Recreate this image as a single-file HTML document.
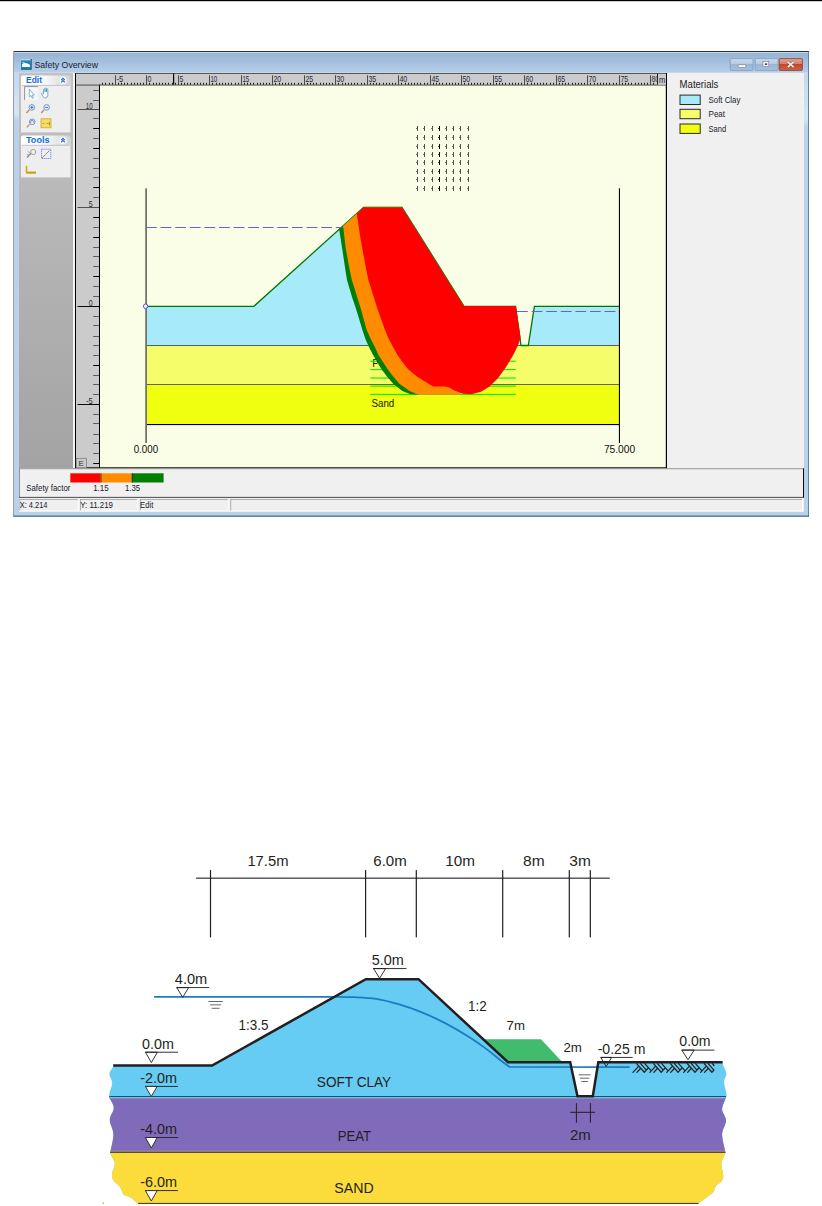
<!DOCTYPE html>
<html><head><meta charset="utf-8"><title>Safety Overview</title>
<style>html,body{margin:0;padding:0;background:#fff;width:822px;height:1206px;overflow:hidden}</style>
</head><body>
<svg width="822" height="1206" viewBox="0 0 822 1206" style="display:block;font-family:'Liberation Sans', sans-serif">
<defs>
<linearGradient id="tb" x1="0" y1="0" x2="0" y2="1"><stop offset="0" stop-color="#93B0D1"/><stop offset="1" stop-color="#B7D0EA"/></linearGradient>
<linearGradient id="lp" x1="0" y1="0" x2="0" y2="1"><stop offset="0" stop-color="#C2C2C2"/><stop offset="1" stop-color="#A3A3A3"/></linearGradient>
<linearGradient id="grphdr" x1="0" y1="0" x2="1" y2="0"><stop offset="0" stop-color="#FFFFFF"/><stop offset="0.4" stop-color="#FFFFFF"/><stop offset="1" stop-color="#D2D2D2"/></linearGradient>
<linearGradient id="btn" x1="0" y1="0" x2="0" y2="1"><stop offset="0" stop-color="#C9DAEE"/><stop offset="0.5" stop-color="#B3C8E2"/><stop offset="0.5" stop-color="#9DB5D5"/><stop offset="1" stop-color="#A9C1DE"/></linearGradient>
<linearGradient id="btnx" x1="0" y1="0" x2="0" y2="1"><stop offset="0" stop-color="#E3A393"/><stop offset="0.5" stop-color="#D47A64"/><stop offset="0.5" stop-color="#C3452A"/><stop offset="1" stop-color="#D0634A"/></linearGradient>
<linearGradient id="frl" x1="0" y1="0" x2="0" y2="1"><stop offset="0" stop-color="#C4D8EE"/><stop offset="0.85" stop-color="#D6E5F5"/><stop offset="1" stop-color="#BAD1EB"/></linearGradient>
</defs>
<rect width="822" height="1206" fill="#fff"/>
<rect x="0" y="0" width="822" height="1.2" fill="#000"/>
<rect x="13" y="51" width="796" height="465.5" fill="#BAD1EB"/>
<rect x="13" y="51" width="796" height="22" fill="url(#tb)"/>
<rect x="13" y="51" width="796" height="1" fill="#2E2E2E"/>
<rect x="14" y="52" width="794" height="0.8" fill="#D3E3F4"/>
<rect x="13" y="51" width="1" height="465.5" fill="#98A0A8"/>
<rect x="808" y="51.5" width="1" height="465" fill="#5A8C9E"/>
<rect x="13.5" y="515.6" width="795.5" height="1.1" fill="#1F6676"/>
<rect x="14" y="72" width="794" height="1" fill="#C4D9F0"/>
<rect x="14" y="73" width="5" height="48" fill="url(#frl)"/>
<rect x="804" y="73" width="4" height="54" fill="url(#frl)"/>
<rect x="21" y="59.3" width="10.3" height="10.3" fill="#1C86B8"/>
<rect x="21" y="59.3" width="10.3" height="1" fill="#E8F2F8"/>
<path d="M22.1 64.3 L23.4 63.2 L24.6 62.4 L25.6 63.3 L26.9 63.2 L28.4 63.9 L29.9 64.7 L29.9 66.9 L22.1 66.9 Z" fill="#FFFFFF"/>
<rect x="22.1" y="61.9" width="1.6" height="0.8" fill="#E8F4FA"/>
<rect x="31" y="60" width="0.8" height="9.6" fill="#33404A" opacity="0.7"/>
<rect x="30.6" y="59.2" width="1" height="1" fill="#000"/>
<rect x="21" y="68.6" width="10.3" height="1" fill="#0F5E86"/>
<text x="34.4" y="67.9" font-size="9.3" fill="#1C2433" textLength="63.6" lengthAdjust="spacingAndGlyphs">Safety Overview</text>
<rect x="730.2" y="58.6" width="22.8" height="11.8" rx="0.8" fill="url(#btn)" stroke="#7E95B4" stroke-width="0.7"/>
<rect x="738.3" y="64.7" width="7.4" height="2.8" rx="0.8" fill="#fff" stroke="#5A6A84" stroke-width="0.5"/>
<rect x="755.2" y="58.6" width="22.8" height="11.8" rx="0.8" fill="url(#btn)" stroke="#7E95B4" stroke-width="0.7"/>
<rect x="763" y="61.5" width="5.8" height="5.2" fill="#fff" stroke="#50607a" stroke-width="0.5"/>
<rect x="764.8" y="63.3" width="2.4" height="1.8" fill="#3A4F6E"/>
<rect x="779.2" y="58.6" width="23.2" height="11.8" rx="0.8" fill="url(#btnx)" stroke="#7A3426" stroke-width="0.7"/>
<path d="M787.8 61.8 L793.6 67.2 M793.6 61.8 L787.8 67.2" stroke="#6A3A30" stroke-width="2.6" opacity="0.5"/>
<path d="M787.8 61.8 L793.6 67.2 M793.6 61.8 L787.8 67.2" stroke="#EDEDED" stroke-width="1.7"/>
<rect x="19" y="73" width="785" height="438.8" fill="#F0F0F0"/>
<rect x="19" y="73" width="54" height="395" fill="url(#lp)"/>
<rect x="73" y="73" width="2" height="395" fill="#F4F4F4"/>
<rect x="75" y="73" width="1.2" height="395.5" fill="#000"/>
<rect x="76" y="73" width="590.5" height="12" fill="#CBCBCB"/>
<rect x="76" y="73" width="23" height="395" fill="#CBCBCB"/>
<rect x="76" y="73" width="591" height="0.9" fill="#4A4A4A"/>
<rect x="99" y="85" width="567.5" height="383" fill="#FAFEE6"/>
<rect x="99" y="84.6" width="1" height="383.8" fill="#000"/>
<rect x="76" y="84.6" width="591" height="0.9" fill="#3C3C3C"/>
<rect x="665.8" y="73" width="1.2" height="395.5" fill="#000"/>
<rect x="75" y="467.3" width="592" height="1.2" fill="#000"/>
<rect x="21" y="78.5" width="49.5" height="53.900000000000006" fill="#EEEEEE"/>
<rect x="21" y="75.5" width="49.5" height="9.8" rx="2" fill="url(#grphdr)"/>
<rect x="22" y="84.89999999999999" width="47.5" height="1" fill="#C4C4C4"/>
<text x="26" y="82.8" font-size="9.2" font-weight="bold" fill="#0E6BE6" textLength="16" lengthAdjust="spacingAndGlyphs">Edit</text>
<circle cx="63" cy="80.4" r="3.9" fill="#fff" stroke="#D8DEE6" stroke-width="0.5"/>
<path d="M61.2 80.2 L63 78.4 L64.8 80.2 M61.2 82.30000000000001 L63 80.5 L64.8 82.30000000000001" stroke="#1A5FD2" stroke-width="1.1" fill="none"/>
<rect x="21" y="138.5" width="49.5" height="38.900000000000006" fill="#EEEEEE"/>
<rect x="21" y="135.5" width="49.5" height="9.7" rx="2" fill="url(#grphdr)"/>
<rect x="22" y="144.79999999999998" width="47.5" height="1" fill="#C4C4C4"/>
<text x="26" y="142.7" font-size="9.2" font-weight="bold" fill="#0E6BE6" textLength="23.5" lengthAdjust="spacingAndGlyphs">Tools</text>
<circle cx="63" cy="140.35" r="3.9" fill="#fff" stroke="#D8DEE6" stroke-width="0.5"/>
<path d="M61.2 140.15 L63 138.35 L64.8 140.15 M61.2 142.25 L63 140.45 L64.8 142.25" stroke="#1A5FD2" stroke-width="1.1" fill="none"/>
<rect x="24.5" y="86.5" width="13.5" height="13.5" fill="#F6F6F6"/>
<path d="M24.6 100 L24.6 86.6 L38 86.6" stroke="#7A7A7A" stroke-width="0.8" fill="none"/>
<path d="M29.3 89.2 L29.3 97 L31 95.5 L32.4 98.3 L33.4 97.8 L32.1 95.1 L34.3 95.1 Z" fill="#fff" stroke="#4A9BD0" stroke-width="0.7"/>
<path d="M43.6 93 L43.6 89.3 Q44.3 88.4 45 89.3 L45 92 L45 88.6 Q45.7 87.8 46.4 88.6 L46.4 92 L46.4 89 Q47.1 88.2 47.8 89 L47.8 95.5 Q47.4 97.6 45.8 97.8 L44.3 97.8 Q43 97 42.3 95.4 L41.6 93.6 Q42.2 92.6 43.6 94 Z" fill="#fff" stroke="#3E8FC8" stroke-width="0.7"/>
<line x1="29.2" y1="110.0" x2="26.4" y2="113.0" stroke="#C98A4A" stroke-width="1.3"/>
<circle cx="31.8" cy="107.4" r="2.8" fill="#E6F0FA" stroke="#5F8FD0" stroke-width="0.9"/>
<path d="M30.3 107.4 L33.3 107.4 M31.8 105.9 L31.8 108.9" stroke="#2C4FB0" stroke-width="0.8"/>
<line x1="44.0" y1="110.0" x2="41.2" y2="113.0" stroke="#C98A4A" stroke-width="1.3"/>
<circle cx="46.6" cy="107.4" r="2.8" fill="#E6F0FA" stroke="#5F8FD0" stroke-width="0.9"/>
<path d="M45.1 107.4 L48.1 107.4" stroke="#2C4FB0" stroke-width="0.8"/>
<line x1="29.6" y1="124.39999999999999" x2="26.800000000000004" y2="127.39999999999999" stroke="#C98A4A" stroke-width="1.3"/>
<circle cx="32.2" cy="121.8" r="2.8" fill="#E6F0FA" stroke="#5F8FD0" stroke-width="0.9"/>
<path d="M30.900000000000002 122.8 A1.5 1.5 0 1 1 33.5 122.39999999999999" stroke="#2C4FB0" stroke-width="0.7" fill="none"/>
<rect x="41" y="118.8" width="10" height="9" fill="#F5DC64" stroke="#C8A020" stroke-width="0.7"/>
<path d="M42.5 123.5 L44.5 123.5 M46.5 123.5 L49.5 123.5 M49.5 121.5 L49.5 125.5" stroke="#B08010" stroke-width="0.7"/>
<path d="M27 157.5 L31 153.3" stroke="#8A8A8A" stroke-width="1.4"/>
<circle cx="33.2" cy="152" r="2.6" fill="none" stroke="#9A9A9A" stroke-width="0.9"/>
<path d="M27.5 151 L30.5 153.5 M26.8 154.5 L29 155" stroke="#9A9A9A" stroke-width="0.8"/>
<rect x="41.5" y="149.2" width="9.3" height="9.3" fill="#EAF0FA" stroke="#5A6FD8" stroke-width="0.8" stroke-dasharray="1.2 0.8"/>
<path d="M42 158 L45.5 154.5 L49.5 150.5" stroke="#D07A30" stroke-width="1"/>
<path d="M26.5 165.8 L26.5 172.4 L36 172.4" stroke="#D8A810" stroke-width="1.6" fill="none"/>
<path d="M26.5 173.2 L36 173.2" stroke="#A87808" stroke-width="0.6"/>
<rect x="102" y="82.8" width="1" height="1.9" fill="#1E1E1E"/>
<rect x="105" y="82.8" width="1" height="1.9" fill="#1E1E1E"/>
<rect x="109" y="82.8" width="1" height="1.9" fill="#1E1E1E"/>
<rect x="112" y="82.8" width="1" height="1.9" fill="#1E1E1E"/>
<rect x="115" y="82.8" width="1" height="1.9" fill="#1E1E1E"/>
<rect x="118" y="82.8" width="1" height="1.9" fill="#1E1E1E"/>
<rect x="121" y="82.8" width="1" height="1.9" fill="#1E1E1E"/>
<rect x="124" y="82.8" width="1" height="1.9" fill="#1E1E1E"/>
<rect x="127" y="82.8" width="1" height="1.9" fill="#1E1E1E"/>
<rect x="131" y="82.8" width="1" height="1.9" fill="#1E1E1E"/>
<rect x="134" y="82.8" width="1" height="1.9" fill="#1E1E1E"/>
<rect x="137" y="82.8" width="1" height="1.9" fill="#1E1E1E"/>
<rect x="140" y="82.8" width="1" height="1.9" fill="#1E1E1E"/>
<rect x="143" y="82.8" width="1" height="1.9" fill="#1E1E1E"/>
<rect x="146" y="82.8" width="1" height="1.9" fill="#1E1E1E"/>
<rect x="149" y="82.8" width="1" height="1.9" fill="#1E1E1E"/>
<rect x="153" y="82.8" width="1" height="1.9" fill="#1E1E1E"/>
<rect x="156" y="82.8" width="1" height="1.9" fill="#1E1E1E"/>
<rect x="159" y="82.8" width="1" height="1.9" fill="#1E1E1E"/>
<rect x="162" y="82.8" width="1" height="1.9" fill="#1E1E1E"/>
<rect x="165" y="82.8" width="1" height="1.9" fill="#1E1E1E"/>
<rect x="168" y="82.8" width="1" height="1.9" fill="#1E1E1E"/>
<rect x="172" y="82.8" width="1" height="1.9" fill="#1E1E1E"/>
<rect x="175" y="82.8" width="1" height="1.9" fill="#1E1E1E"/>
<rect x="178" y="82.8" width="1" height="1.9" fill="#1E1E1E"/>
<rect x="181" y="82.8" width="1" height="1.9" fill="#1E1E1E"/>
<rect x="184" y="82.8" width="1" height="1.9" fill="#1E1E1E"/>
<rect x="187" y="82.8" width="1" height="1.9" fill="#1E1E1E"/>
<rect x="190" y="82.8" width="1" height="1.9" fill="#1E1E1E"/>
<rect x="194" y="82.8" width="1" height="1.9" fill="#1E1E1E"/>
<rect x="197" y="82.8" width="1" height="1.9" fill="#1E1E1E"/>
<rect x="200" y="82.8" width="1" height="1.9" fill="#1E1E1E"/>
<rect x="203" y="82.8" width="1" height="1.9" fill="#1E1E1E"/>
<rect x="206" y="82.8" width="1" height="1.9" fill="#1E1E1E"/>
<rect x="209" y="82.8" width="1" height="1.9" fill="#1E1E1E"/>
<rect x="212" y="82.8" width="1" height="1.9" fill="#1E1E1E"/>
<rect x="216" y="82.8" width="1" height="1.9" fill="#1E1E1E"/>
<rect x="219" y="82.8" width="1" height="1.9" fill="#1E1E1E"/>
<rect x="222" y="82.8" width="1" height="1.9" fill="#1E1E1E"/>
<rect x="225" y="82.8" width="1" height="1.9" fill="#1E1E1E"/>
<rect x="228" y="82.8" width="1" height="1.9" fill="#1E1E1E"/>
<rect x="231" y="82.8" width="1" height="1.9" fill="#1E1E1E"/>
<rect x="235" y="82.8" width="1" height="1.9" fill="#1E1E1E"/>
<rect x="238" y="82.8" width="1" height="1.9" fill="#1E1E1E"/>
<rect x="241" y="82.8" width="1" height="1.9" fill="#1E1E1E"/>
<rect x="244" y="82.8" width="1" height="1.9" fill="#1E1E1E"/>
<rect x="247" y="82.8" width="1" height="1.9" fill="#1E1E1E"/>
<rect x="250" y="82.8" width="1" height="1.9" fill="#1E1E1E"/>
<rect x="253" y="82.8" width="1" height="1.9" fill="#1E1E1E"/>
<rect x="257" y="82.8" width="1" height="1.9" fill="#1E1E1E"/>
<rect x="260" y="82.8" width="1" height="1.9" fill="#1E1E1E"/>
<rect x="263" y="82.8" width="1" height="1.9" fill="#1E1E1E"/>
<rect x="266" y="82.8" width="1" height="1.9" fill="#1E1E1E"/>
<rect x="269" y="82.8" width="1" height="1.9" fill="#1E1E1E"/>
<rect x="272" y="82.8" width="1" height="1.9" fill="#1E1E1E"/>
<rect x="275" y="82.8" width="1" height="1.9" fill="#1E1E1E"/>
<rect x="279" y="82.8" width="1" height="1.9" fill="#1E1E1E"/>
<rect x="282" y="82.8" width="1" height="1.9" fill="#1E1E1E"/>
<rect x="285" y="82.8" width="1" height="1.9" fill="#1E1E1E"/>
<rect x="288" y="82.8" width="1" height="1.9" fill="#1E1E1E"/>
<rect x="291" y="82.8" width="1" height="1.9" fill="#1E1E1E"/>
<rect x="294" y="82.8" width="1" height="1.9" fill="#1E1E1E"/>
<rect x="298" y="82.8" width="1" height="1.9" fill="#1E1E1E"/>
<rect x="301" y="82.8" width="1" height="1.9" fill="#1E1E1E"/>
<rect x="304" y="82.8" width="1" height="1.9" fill="#1E1E1E"/>
<rect x="307" y="82.8" width="1" height="1.9" fill="#1E1E1E"/>
<rect x="310" y="82.8" width="1" height="1.9" fill="#1E1E1E"/>
<rect x="313" y="82.8" width="1" height="1.9" fill="#1E1E1E"/>
<rect x="316" y="82.8" width="1" height="1.9" fill="#1E1E1E"/>
<rect x="320" y="82.8" width="1" height="1.9" fill="#1E1E1E"/>
<rect x="323" y="82.8" width="1" height="1.9" fill="#1E1E1E"/>
<rect x="326" y="82.8" width="1" height="1.9" fill="#1E1E1E"/>
<rect x="329" y="82.8" width="1" height="1.9" fill="#1E1E1E"/>
<rect x="332" y="82.8" width="1" height="1.9" fill="#1E1E1E"/>
<rect x="335" y="82.8" width="1" height="1.9" fill="#1E1E1E"/>
<rect x="338" y="82.8" width="1" height="1.9" fill="#1E1E1E"/>
<rect x="342" y="82.8" width="1" height="1.9" fill="#1E1E1E"/>
<rect x="345" y="82.8" width="1" height="1.9" fill="#1E1E1E"/>
<rect x="348" y="82.8" width="1" height="1.9" fill="#1E1E1E"/>
<rect x="351" y="82.8" width="1" height="1.9" fill="#1E1E1E"/>
<rect x="354" y="82.8" width="1" height="1.9" fill="#1E1E1E"/>
<rect x="357" y="82.8" width="1" height="1.9" fill="#1E1E1E"/>
<rect x="361" y="82.8" width="1" height="1.9" fill="#1E1E1E"/>
<rect x="364" y="82.8" width="1" height="1.9" fill="#1E1E1E"/>
<rect x="367" y="82.8" width="1" height="1.9" fill="#1E1E1E"/>
<rect x="370" y="82.8" width="1" height="1.9" fill="#1E1E1E"/>
<rect x="373" y="82.8" width="1" height="1.9" fill="#1E1E1E"/>
<rect x="376" y="82.8" width="1" height="1.9" fill="#1E1E1E"/>
<rect x="379" y="82.8" width="1" height="1.9" fill="#1E1E1E"/>
<rect x="383" y="82.8" width="1" height="1.9" fill="#1E1E1E"/>
<rect x="386" y="82.8" width="1" height="1.9" fill="#1E1E1E"/>
<rect x="389" y="82.8" width="1" height="1.9" fill="#1E1E1E"/>
<rect x="392" y="82.8" width="1" height="1.9" fill="#1E1E1E"/>
<rect x="395" y="82.8" width="1" height="1.9" fill="#1E1E1E"/>
<rect x="398" y="82.8" width="1" height="1.9" fill="#1E1E1E"/>
<rect x="401" y="82.8" width="1" height="1.9" fill="#1E1E1E"/>
<rect x="405" y="82.8" width="1" height="1.9" fill="#1E1E1E"/>
<rect x="408" y="82.8" width="1" height="1.9" fill="#1E1E1E"/>
<rect x="411" y="82.8" width="1" height="1.9" fill="#1E1E1E"/>
<rect x="414" y="82.8" width="1" height="1.9" fill="#1E1E1E"/>
<rect x="417" y="82.8" width="1" height="1.9" fill="#1E1E1E"/>
<rect x="420" y="82.8" width="1" height="1.9" fill="#1E1E1E"/>
<rect x="424" y="82.8" width="1" height="1.9" fill="#1E1E1E"/>
<rect x="427" y="82.8" width="1" height="1.9" fill="#1E1E1E"/>
<rect x="430" y="82.8" width="1" height="1.9" fill="#1E1E1E"/>
<rect x="433" y="82.8" width="1" height="1.9" fill="#1E1E1E"/>
<rect x="436" y="82.8" width="1" height="1.9" fill="#1E1E1E"/>
<rect x="439" y="82.8" width="1" height="1.9" fill="#1E1E1E"/>
<rect x="442" y="82.8" width="1" height="1.9" fill="#1E1E1E"/>
<rect x="446" y="82.8" width="1" height="1.9" fill="#1E1E1E"/>
<rect x="449" y="82.8" width="1" height="1.9" fill="#1E1E1E"/>
<rect x="452" y="82.8" width="1" height="1.9" fill="#1E1E1E"/>
<rect x="455" y="82.8" width="1" height="1.9" fill="#1E1E1E"/>
<rect x="458" y="82.8" width="1" height="1.9" fill="#1E1E1E"/>
<rect x="461" y="82.8" width="1" height="1.9" fill="#1E1E1E"/>
<rect x="464" y="82.8" width="1" height="1.9" fill="#1E1E1E"/>
<rect x="468" y="82.8" width="1" height="1.9" fill="#1E1E1E"/>
<rect x="471" y="82.8" width="1" height="1.9" fill="#1E1E1E"/>
<rect x="474" y="82.8" width="1" height="1.9" fill="#1E1E1E"/>
<rect x="477" y="82.8" width="1" height="1.9" fill="#1E1E1E"/>
<rect x="480" y="82.8" width="1" height="1.9" fill="#1E1E1E"/>
<rect x="483" y="82.8" width="1" height="1.9" fill="#1E1E1E"/>
<rect x="487" y="82.8" width="1" height="1.9" fill="#1E1E1E"/>
<rect x="490" y="82.8" width="1" height="1.9" fill="#1E1E1E"/>
<rect x="493" y="82.8" width="1" height="1.9" fill="#1E1E1E"/>
<rect x="496" y="82.8" width="1" height="1.9" fill="#1E1E1E"/>
<rect x="499" y="82.8" width="1" height="1.9" fill="#1E1E1E"/>
<rect x="502" y="82.8" width="1" height="1.9" fill="#1E1E1E"/>
<rect x="505" y="82.8" width="1" height="1.9" fill="#1E1E1E"/>
<rect x="509" y="82.8" width="1" height="1.9" fill="#1E1E1E"/>
<rect x="512" y="82.8" width="1" height="1.9" fill="#1E1E1E"/>
<rect x="515" y="82.8" width="1" height="1.9" fill="#1E1E1E"/>
<rect x="518" y="82.8" width="1" height="1.9" fill="#1E1E1E"/>
<rect x="521" y="82.8" width="1" height="1.9" fill="#1E1E1E"/>
<rect x="524" y="82.8" width="1" height="1.9" fill="#1E1E1E"/>
<rect x="527" y="82.8" width="1" height="1.9" fill="#1E1E1E"/>
<rect x="531" y="82.8" width="1" height="1.9" fill="#1E1E1E"/>
<rect x="534" y="82.8" width="1" height="1.9" fill="#1E1E1E"/>
<rect x="537" y="82.8" width="1" height="1.9" fill="#1E1E1E"/>
<rect x="540" y="82.8" width="1" height="1.9" fill="#1E1E1E"/>
<rect x="543" y="82.8" width="1" height="1.9" fill="#1E1E1E"/>
<rect x="546" y="82.8" width="1" height="1.9" fill="#1E1E1E"/>
<rect x="550" y="82.8" width="1" height="1.9" fill="#1E1E1E"/>
<rect x="553" y="82.8" width="1" height="1.9" fill="#1E1E1E"/>
<rect x="556" y="82.8" width="1" height="1.9" fill="#1E1E1E"/>
<rect x="559" y="82.8" width="1" height="1.9" fill="#1E1E1E"/>
<rect x="562" y="82.8" width="1" height="1.9" fill="#1E1E1E"/>
<rect x="565" y="82.8" width="1" height="1.9" fill="#1E1E1E"/>
<rect x="568" y="82.8" width="1" height="1.9" fill="#1E1E1E"/>
<rect x="572" y="82.8" width="1" height="1.9" fill="#1E1E1E"/>
<rect x="575" y="82.8" width="1" height="1.9" fill="#1E1E1E"/>
<rect x="578" y="82.8" width="1" height="1.9" fill="#1E1E1E"/>
<rect x="581" y="82.8" width="1" height="1.9" fill="#1E1E1E"/>
<rect x="584" y="82.8" width="1" height="1.9" fill="#1E1E1E"/>
<rect x="587" y="82.8" width="1" height="1.9" fill="#1E1E1E"/>
<rect x="590" y="82.8" width="1" height="1.9" fill="#1E1E1E"/>
<rect x="594" y="82.8" width="1" height="1.9" fill="#1E1E1E"/>
<rect x="597" y="82.8" width="1" height="1.9" fill="#1E1E1E"/>
<rect x="600" y="82.8" width="1" height="1.9" fill="#1E1E1E"/>
<rect x="603" y="82.8" width="1" height="1.9" fill="#1E1E1E"/>
<rect x="606" y="82.8" width="1" height="1.9" fill="#1E1E1E"/>
<rect x="609" y="82.8" width="1" height="1.9" fill="#1E1E1E"/>
<rect x="613" y="82.8" width="1" height="1.9" fill="#1E1E1E"/>
<rect x="616" y="82.8" width="1" height="1.9" fill="#1E1E1E"/>
<rect x="619" y="82.8" width="1" height="1.9" fill="#1E1E1E"/>
<rect x="622" y="82.8" width="1" height="1.9" fill="#1E1E1E"/>
<rect x="625" y="82.8" width="1" height="1.9" fill="#1E1E1E"/>
<rect x="628" y="82.8" width="1" height="1.9" fill="#1E1E1E"/>
<rect x="631" y="82.8" width="1" height="1.9" fill="#1E1E1E"/>
<rect x="635" y="82.8" width="1" height="1.9" fill="#1E1E1E"/>
<rect x="638" y="82.8" width="1" height="1.9" fill="#1E1E1E"/>
<rect x="641" y="82.8" width="1" height="1.9" fill="#1E1E1E"/>
<rect x="644" y="82.8" width="1" height="1.9" fill="#1E1E1E"/>
<rect x="647" y="82.8" width="1" height="1.9" fill="#1E1E1E"/>
<rect x="650" y="82.8" width="1" height="1.9" fill="#1E1E1E"/>
<rect x="653" y="82.8" width="1" height="1.9" fill="#1E1E1E"/>
<rect x="115" y="75.3" width="1" height="9" fill="#4A4A4A"/>
<text x="116.40" y="81.9" font-size="9.2" fill="#2A2A3A" textLength="6.7" lengthAdjust="spacingAndGlyphs">-5</text>
<rect x="146" y="75.3" width="1" height="9" fill="#4A4A4A"/>
<text x="147.40" y="81.9" font-size="9.2" fill="#2A2A3A" textLength="3.9" lengthAdjust="spacingAndGlyphs">0</text>
<rect x="178" y="75.3" width="1" height="9" fill="#4A4A4A"/>
<text x="179.40" y="81.9" font-size="9.2" fill="#2A2A3A" textLength="3.9" lengthAdjust="spacingAndGlyphs">5</text>
<rect x="209" y="75.3" width="1" height="9" fill="#4A4A4A"/>
<text x="210.40" y="81.9" font-size="9.2" fill="#2A2A3A" textLength="6.9" lengthAdjust="spacingAndGlyphs">10</text>
<rect x="241" y="75.3" width="1" height="9" fill="#4A4A4A"/>
<text x="242.40" y="81.9" font-size="9.2" fill="#2A2A3A" textLength="6.9" lengthAdjust="spacingAndGlyphs">15</text>
<rect x="272" y="75.3" width="1" height="9" fill="#4A4A4A"/>
<text x="273.40" y="81.9" font-size="9.2" fill="#2A2A3A" textLength="7.8" lengthAdjust="spacingAndGlyphs">20</text>
<rect x="304" y="75.3" width="1" height="9" fill="#4A4A4A"/>
<text x="305.40" y="81.9" font-size="9.2" fill="#2A2A3A" textLength="7.8" lengthAdjust="spacingAndGlyphs">25</text>
<rect x="335" y="75.3" width="1" height="9" fill="#4A4A4A"/>
<text x="336.40" y="81.9" font-size="9.2" fill="#2A2A3A" textLength="7.8" lengthAdjust="spacingAndGlyphs">30</text>
<rect x="367" y="75.3" width="1" height="9" fill="#4A4A4A"/>
<text x="368.40" y="81.9" font-size="9.2" fill="#2A2A3A" textLength="7.8" lengthAdjust="spacingAndGlyphs">35</text>
<rect x="398" y="75.3" width="1" height="9" fill="#4A4A4A"/>
<text x="399.40" y="81.9" font-size="9.2" fill="#2A2A3A" textLength="7.8" lengthAdjust="spacingAndGlyphs">40</text>
<rect x="430" y="75.3" width="1" height="9" fill="#4A4A4A"/>
<text x="431.40" y="81.9" font-size="9.2" fill="#2A2A3A" textLength="7.8" lengthAdjust="spacingAndGlyphs">45</text>
<rect x="461" y="75.3" width="1" height="9" fill="#4A4A4A"/>
<text x="462.40" y="81.9" font-size="9.2" fill="#2A2A3A" textLength="7.8" lengthAdjust="spacingAndGlyphs">50</text>
<rect x="493" y="75.3" width="1" height="9" fill="#4A4A4A"/>
<text x="494.40" y="81.9" font-size="9.2" fill="#2A2A3A" textLength="7.8" lengthAdjust="spacingAndGlyphs">55</text>
<rect x="524" y="75.3" width="1" height="9" fill="#4A4A4A"/>
<text x="525.40" y="81.9" font-size="9.2" fill="#2A2A3A" textLength="7.8" lengthAdjust="spacingAndGlyphs">60</text>
<rect x="556" y="75.3" width="1" height="9" fill="#4A4A4A"/>
<text x="557.40" y="81.9" font-size="9.2" fill="#2A2A3A" textLength="7.8" lengthAdjust="spacingAndGlyphs">65</text>
<rect x="587" y="75.3" width="1" height="9" fill="#4A4A4A"/>
<text x="588.40" y="81.9" font-size="9.2" fill="#2A2A3A" textLength="7.8" lengthAdjust="spacingAndGlyphs">70</text>
<rect x="619" y="75.3" width="1" height="9" fill="#4A4A4A"/>
<text x="620.40" y="81.9" font-size="9.2" fill="#2A2A3A" textLength="7.8" lengthAdjust="spacingAndGlyphs">75</text>
<rect x="650" y="75.3" width="1" height="9" fill="#4A4A4A"/>
<text x="651.40" y="81.9" font-size="9.2" fill="#2A2A3A" textLength="7.8" lengthAdjust="spacingAndGlyphs">80</text>
<rect x="173" y="73.5" width="1.2" height="11" fill="#000"/>
<rect x="656.8" y="73.9" width="9.2" height="10.8" fill="#CBCBCB"/>
<rect x="657" y="73.5" width="1" height="11.2" fill="#222"/>
<text x="658.9" y="82.6" font-size="8.2" fill="#2A1A1A" textLength="6.4" lengthAdjust="spacingAndGlyphs">m</text>
<rect x="93.2" y="90" width="5.8" height="1" fill="#5A5A5A"/>
<rect x="93.2" y="100" width="5.8" height="1" fill="#5A5A5A"/>
<rect x="77.5" y="109" width="21.5" height="1" fill="#505050"/>
<text x="85.70" y="108.70" font-size="9.2" fill="#2A2A3A" textLength="6.9" lengthAdjust="spacingAndGlyphs">10</text>
<rect x="93.2" y="118" width="5.8" height="1" fill="#5A5A5A"/>
<rect x="93.2" y="128" width="5.8" height="1" fill="#000"/>
<rect x="93.2" y="138" width="5.8" height="1" fill="#5A5A5A"/>
<rect x="93.2" y="148" width="5.8" height="1" fill="#000"/>
<rect x="93.2" y="158" width="5.8" height="1" fill="#5A5A5A"/>
<rect x="93.2" y="168" width="5.8" height="1" fill="#5A5A5A"/>
<rect x="93.2" y="177" width="5.8" height="1" fill="#5A5A5A"/>
<rect x="93.2" y="187" width="5.8" height="1" fill="#000"/>
<rect x="93.2" y="197" width="5.8" height="1" fill="#5A5A5A"/>
<rect x="77.5" y="207" width="21.5" height="1" fill="#505050"/>
<text x="88.70" y="206.70" font-size="9.2" fill="#2A2A3A" textLength="3.9" lengthAdjust="spacingAndGlyphs">5</text>
<rect x="93.2" y="217" width="5.8" height="1" fill="#000"/>
<rect x="93.2" y="227" width="5.8" height="1" fill="#5A5A5A"/>
<rect x="93.2" y="237" width="5.8" height="1" fill="#000"/>
<rect x="93.2" y="247" width="5.8" height="1" fill="#5A5A5A"/>
<rect x="93.2" y="256" width="5.8" height="1" fill="#5A5A5A"/>
<rect x="93.2" y="266" width="5.8" height="1" fill="#5A5A5A"/>
<rect x="93.2" y="276" width="5.8" height="1" fill="#000"/>
<rect x="93.2" y="286" width="5.8" height="1" fill="#5A5A5A"/>
<rect x="93.2" y="296" width="5.8" height="1" fill="#5A5A5A"/>
<rect x="77.5" y="306" width="21.5" height="1" fill="#0A0A0A"/>
<text x="88.70" y="305.70" font-size="9.2" fill="#2A2A3A" textLength="3.9" lengthAdjust="spacingAndGlyphs">0</text>
<rect x="93.2" y="316" width="5.8" height="1" fill="#5A5A5A"/>
<rect x="93.2" y="325" width="5.8" height="1" fill="#5A5A5A"/>
<rect x="93.2" y="336" width="5.8" height="1" fill="#5A5A5A"/>
<rect x="93.2" y="345" width="5.8" height="1" fill="#5A5A5A"/>
<rect x="93.2" y="355" width="5.8" height="1" fill="#5A5A5A"/>
<rect x="93.2" y="365" width="5.8" height="1" fill="#000"/>
<rect x="93.2" y="375" width="5.8" height="1" fill="#5A5A5A"/>
<rect x="93.2" y="384" width="5.8" height="1" fill="#5A5A5A"/>
<rect x="93.2" y="394" width="5.8" height="1" fill="#5A5A5A"/>
<rect x="77.5" y="404" width="21.5" height="1" fill="#0A0A0A"/>
<text x="85.90" y="403.70" font-size="9.2" fill="#2A2A3A" textLength="6.7" lengthAdjust="spacingAndGlyphs">-5</text>
<rect x="93.2" y="414" width="5.8" height="1" fill="#5A5A5A"/>
<rect x="93.2" y="423" width="5.8" height="1" fill="#5A5A5A"/>
<rect x="93.2" y="434" width="5.8" height="1" fill="#5A5A5A"/>
<rect x="93.2" y="443" width="5.8" height="1" fill="#5A5A5A"/>
<rect x="93.2" y="453" width="5.8" height="1" fill="#5A5A5A"/>
<rect x="93.2" y="463" width="5.8" height="1" fill="#000"/>
<rect x="76.2" y="458.3" width="10.3" height="9.5" fill="#CBCBCB" stroke="#777" stroke-width="0.7"/>
<text x="78.4" y="466.2" font-size="8" fill="#333">E</text>
<rect x="146.1" y="384.5" width="473.4" height="40.0" fill="#EFFF0F"/>
<rect x="146.1" y="345.5" width="473.4" height="39.0" fill="#F5FD6B"/>
<polygon points="146.10,306.30 253.90,306.30 363.60,207.30 402.00,207.30 464.00,306.30 515.60,306.30 521.00,345.50 528.30,345.50 534.40,306.30 619.50,306.30 619.50,345.50 146.10,345.50" fill="#A7EAF9"/>
<rect x="146.1" y="345" width="473.4" height="1" fill="#4E5E66"/>
<rect x="146.1" y="384" width="473.4" height="1" fill="#66683A"/>
<rect x="146.1" y="424" width="473.4" height="1.1" fill="#000"/>
<polyline points="146.10,306.30 253.90,306.30 363.60,207.30 402.00,207.30 464.00,306.30 515.60,306.30 521.00,345.50 528.30,345.50 534.40,306.30 619.50,306.30" fill="none" stroke="#007800" stroke-width="1.3"/>
<rect x="145.2" y="188.3" width="1.8" height="254.7" fill="#74746A"/>
<rect x="618.9" y="188.3" width="1.1" height="254.7" fill="#000"/>
<line x1="146" y1="227.5" x2="345" y2="227.5" stroke="#5F5FF0" stroke-width="1.1" stroke-dasharray="10.8 3.8"/>
<line x1="517" y1="311.5" x2="619" y2="311.5" stroke="#5F5FF0" stroke-width="1.1" stroke-dasharray="10.8 3.8" stroke-dashoffset="0"/>
<circle cx="145.6" cy="306.2" r="2.2" fill="#fff" stroke="#2F3FF0" stroke-width="0.9"/>
<text x="372.2" y="366.8" font-size="10.4" fill="#2A1A10" textLength="20.6" lengthAdjust="spacingAndGlyphs">Peat</text>
<text x="371.5" y="406.6" font-size="10.4" fill="#1A1A08" textLength="22.8" lengthAdjust="spacingAndGlyphs">Sand</text>
<rect x="370.3" y="360.65" width="145.5" height="1.1" fill="#00F000"/>
<rect x="370.3" y="369.05" width="145.5" height="1.1" fill="#00F000"/>
<rect x="370.3" y="377.45" width="145.5" height="1.1" fill="#00F000"/>
<rect x="370.3" y="385.55" width="145.5" height="1.1" fill="#00F000"/>
<rect x="370.3" y="393.84999999999997" width="145.5" height="1.1" fill="#00F000"/>
<polygon points="341.00,227.60 339.20,229.40 342.20,248.70 345.40,270.00 347.00,280.00 352.00,297.00 356.10,308.90 362.40,330.00 365.80,340.00 369.10,347.30 372.80,354.60 377.20,361.90 381.50,369.20 387.00,376.50 393.20,383.80 402.30,391.10 410.00,394.00 418.40,394.70 430.00,390.00 400.00,300.00 360.00,230.00" fill="#007F00"/>
<polygon points="343.10,225.80 356.80,213.60 363.60,207.30 402.00,207.30 440.00,270.00 462.00,392.00 459.50,394.70 418.40,394.70 409.60,391.10 399.40,383.80 393.20,376.50 387.70,369.20 383.00,361.90 378.20,354.60 375.00,347.30 371.30,340.00 366.70,330.00 360.90,308.90 351.90,280.00 349.70,270.00 345.80,248.70" fill="#FF8C00"/>
<polygon points="363.60,207.30 402.00,207.30 464.00,306.00 515.80,306.00 520.60,337.70 517.60,346.20 512.70,356.00 505.40,368.10 498.10,377.90 489.60,386.40 481.10,391.80 471.40,394.30 462.80,393.70 454.30,390.60 449.50,387.60 444.60,386.60 433.00,386.40 428.10,383.50 416.90,376.50 408.20,369.20 402.30,361.90 397.20,354.60 393.20,347.30 389.20,340.00 385.00,330.00 377.50,308.90 368.40,280.00 366.30,270.00 360.20,237.00 356.80,213.60" fill="#FF0000"/>
<polyline points="341.00,227.40 363.60,207.30 402.00,207.30 464.00,306.30" fill="none" stroke="#1E8E1E" stroke-width="0.6" opacity="0.7"/>
<rect x="417" y="126" width="1" height="5" fill="#505050"/>
<rect x="416" y="128" width="1" height="1" fill="#505050" opacity="0.8"/>
<rect x="417" y="135" width="1" height="5" fill="#505050"/>
<rect x="416" y="137" width="1" height="1" fill="#505050" opacity="0.8"/>
<rect x="417" y="144" width="1" height="5" fill="#505050"/>
<rect x="416" y="146" width="1" height="1" fill="#505050" opacity="0.8"/>
<rect x="417" y="152" width="1" height="5" fill="#505050"/>
<rect x="416" y="154" width="1" height="1" fill="#505050" opacity="0.8"/>
<rect x="417" y="160" width="1" height="5" fill="#505050"/>
<rect x="416" y="162" width="1" height="1" fill="#505050" opacity="0.8"/>
<rect x="417" y="169" width="1" height="5" fill="#505050"/>
<rect x="416" y="171" width="1" height="1" fill="#505050" opacity="0.8"/>
<rect x="417" y="177" width="1" height="5" fill="#505050"/>
<rect x="416" y="179" width="1" height="1" fill="#505050" opacity="0.8"/>
<rect x="417" y="186" width="1" height="5" fill="#505050"/>
<rect x="416" y="188" width="1" height="1" fill="#505050" opacity="0.8"/>
<rect x="424" y="126" width="1" height="5" fill="#505050"/>
<rect x="423" y="128" width="1" height="1" fill="#505050" opacity="0.8"/>
<rect x="424" y="135" width="1" height="5" fill="#505050"/>
<rect x="423" y="137" width="1" height="1" fill="#505050" opacity="0.8"/>
<rect x="424" y="144" width="1" height="5" fill="#505050"/>
<rect x="423" y="146" width="1" height="1" fill="#505050" opacity="0.8"/>
<rect x="424" y="152" width="1" height="5" fill="#505050"/>
<rect x="423" y="154" width="1" height="1" fill="#505050" opacity="0.8"/>
<rect x="424" y="160" width="1" height="5" fill="#505050"/>
<rect x="423" y="162" width="1" height="1" fill="#505050" opacity="0.8"/>
<rect x="424" y="169" width="1" height="5" fill="#505050"/>
<rect x="423" y="171" width="1" height="1" fill="#505050" opacity="0.8"/>
<rect x="424" y="177" width="1" height="5" fill="#505050"/>
<rect x="423" y="179" width="1" height="1" fill="#505050" opacity="0.8"/>
<rect x="424" y="186" width="1" height="5" fill="#505050"/>
<rect x="423" y="188" width="1" height="1" fill="#505050" opacity="0.8"/>
<rect x="432" y="126" width="1" height="5" fill="#505050"/>
<rect x="431" y="128" width="1" height="1" fill="#505050" opacity="0.8"/>
<rect x="432" y="135" width="1" height="5" fill="#505050"/>
<rect x="431" y="137" width="1" height="1" fill="#505050" opacity="0.8"/>
<rect x="432" y="144" width="1" height="5" fill="#505050"/>
<rect x="431" y="146" width="1" height="1" fill="#505050" opacity="0.8"/>
<rect x="432" y="152" width="1" height="5" fill="#505050"/>
<rect x="431" y="154" width="1" height="1" fill="#505050" opacity="0.8"/>
<rect x="432" y="160" width="1" height="5" fill="#505050"/>
<rect x="431" y="162" width="1" height="1" fill="#505050" opacity="0.8"/>
<rect x="432" y="169" width="1" height="5" fill="#505050"/>
<rect x="431" y="171" width="1" height="1" fill="#505050" opacity="0.8"/>
<rect x="432" y="177" width="1" height="5" fill="#505050"/>
<rect x="431" y="179" width="1" height="1" fill="#505050" opacity="0.8"/>
<rect x="432" y="186" width="1" height="5" fill="#505050"/>
<rect x="431" y="188" width="1" height="1" fill="#505050" opacity="0.8"/>
<rect x="439" y="126" width="1" height="5" fill="#0A0A0A"/>
<rect x="438" y="128" width="1" height="1" fill="#0A0A0A" opacity="0.8"/>
<rect x="439" y="135" width="1" height="5" fill="#0A0A0A"/>
<rect x="438" y="137" width="1" height="1" fill="#0A0A0A" opacity="0.8"/>
<rect x="439" y="144" width="1" height="5" fill="#0A0A0A"/>
<rect x="438" y="146" width="1" height="1" fill="#0A0A0A" opacity="0.8"/>
<rect x="439" y="152" width="1" height="5" fill="#0A0A0A"/>
<rect x="438" y="154" width="1" height="1" fill="#0A0A0A" opacity="0.8"/>
<rect x="439" y="160" width="1" height="5" fill="#0A0A0A"/>
<rect x="438" y="162" width="1" height="1" fill="#0A0A0A" opacity="0.8"/>
<rect x="439" y="169" width="1" height="5" fill="#0A0A0A"/>
<rect x="438" y="171" width="1" height="1" fill="#0A0A0A" opacity="0.8"/>
<rect x="439" y="177" width="1" height="5" fill="#0A0A0A"/>
<rect x="438" y="179" width="1" height="1" fill="#0A0A0A" opacity="0.8"/>
<rect x="439" y="186" width="1" height="5" fill="#0A0A0A"/>
<rect x="438" y="188" width="1" height="1" fill="#0A0A0A" opacity="0.8"/>
<rect x="446" y="126" width="1" height="5" fill="#505050"/>
<rect x="445" y="128" width="1" height="1" fill="#505050" opacity="0.8"/>
<rect x="446" y="135" width="1" height="5" fill="#505050"/>
<rect x="445" y="137" width="1" height="1" fill="#505050" opacity="0.8"/>
<rect x="446" y="144" width="1" height="5" fill="#505050"/>
<rect x="445" y="146" width="1" height="1" fill="#505050" opacity="0.8"/>
<rect x="446" y="152" width="1" height="5" fill="#505050"/>
<rect x="445" y="154" width="1" height="1" fill="#505050" opacity="0.8"/>
<rect x="446" y="160" width="1" height="5" fill="#505050"/>
<rect x="445" y="162" width="1" height="1" fill="#505050" opacity="0.8"/>
<rect x="446" y="169" width="1" height="5" fill="#505050"/>
<rect x="445" y="171" width="1" height="1" fill="#505050" opacity="0.8"/>
<rect x="446" y="177" width="1" height="5" fill="#505050"/>
<rect x="445" y="179" width="1" height="1" fill="#505050" opacity="0.8"/>
<rect x="446" y="186" width="1" height="5" fill="#505050"/>
<rect x="445" y="188" width="1" height="1" fill="#505050" opacity="0.8"/>
<rect x="453" y="126" width="1" height="5" fill="#505050"/>
<rect x="452" y="128" width="1" height="1" fill="#505050" opacity="0.8"/>
<rect x="453" y="135" width="1" height="5" fill="#505050"/>
<rect x="452" y="137" width="1" height="1" fill="#505050" opacity="0.8"/>
<rect x="453" y="144" width="1" height="5" fill="#505050"/>
<rect x="452" y="146" width="1" height="1" fill="#505050" opacity="0.8"/>
<rect x="453" y="152" width="1" height="5" fill="#505050"/>
<rect x="452" y="154" width="1" height="1" fill="#505050" opacity="0.8"/>
<rect x="453" y="160" width="1" height="5" fill="#505050"/>
<rect x="452" y="162" width="1" height="1" fill="#505050" opacity="0.8"/>
<rect x="453" y="169" width="1" height="5" fill="#505050"/>
<rect x="452" y="171" width="1" height="1" fill="#505050" opacity="0.8"/>
<rect x="453" y="177" width="1" height="5" fill="#505050"/>
<rect x="452" y="179" width="1" height="1" fill="#505050" opacity="0.8"/>
<rect x="453" y="186" width="1" height="5" fill="#505050"/>
<rect x="452" y="188" width="1" height="1" fill="#505050" opacity="0.8"/>
<rect x="460" y="126" width="1" height="5" fill="#505050"/>
<rect x="459" y="128" width="1" height="1" fill="#505050" opacity="0.8"/>
<rect x="460" y="135" width="1" height="5" fill="#505050"/>
<rect x="459" y="137" width="1" height="1" fill="#505050" opacity="0.8"/>
<rect x="460" y="144" width="1" height="5" fill="#505050"/>
<rect x="459" y="146" width="1" height="1" fill="#505050" opacity="0.8"/>
<rect x="460" y="152" width="1" height="5" fill="#505050"/>
<rect x="459" y="154" width="1" height="1" fill="#505050" opacity="0.8"/>
<rect x="460" y="160" width="1" height="5" fill="#505050"/>
<rect x="459" y="162" width="1" height="1" fill="#505050" opacity="0.8"/>
<rect x="460" y="169" width="1" height="5" fill="#505050"/>
<rect x="459" y="171" width="1" height="1" fill="#505050" opacity="0.8"/>
<rect x="460" y="177" width="1" height="5" fill="#505050"/>
<rect x="459" y="179" width="1" height="1" fill="#505050" opacity="0.8"/>
<rect x="460" y="186" width="1" height="5" fill="#505050"/>
<rect x="459" y="188" width="1" height="1" fill="#505050" opacity="0.8"/>
<rect x="468" y="126" width="1" height="5" fill="#505050"/>
<rect x="467" y="128" width="1" height="1" fill="#505050" opacity="0.8"/>
<rect x="468" y="135" width="1" height="5" fill="#505050"/>
<rect x="467" y="137" width="1" height="1" fill="#505050" opacity="0.8"/>
<rect x="468" y="144" width="1" height="5" fill="#505050"/>
<rect x="467" y="146" width="1" height="1" fill="#505050" opacity="0.8"/>
<rect x="468" y="152" width="1" height="5" fill="#505050"/>
<rect x="467" y="154" width="1" height="1" fill="#505050" opacity="0.8"/>
<rect x="468" y="160" width="1" height="5" fill="#505050"/>
<rect x="467" y="162" width="1" height="1" fill="#505050" opacity="0.8"/>
<rect x="468" y="169" width="1" height="5" fill="#505050"/>
<rect x="467" y="171" width="1" height="1" fill="#505050" opacity="0.8"/>
<rect x="468" y="177" width="1" height="5" fill="#505050"/>
<rect x="467" y="179" width="1" height="1" fill="#505050" opacity="0.8"/>
<rect x="468" y="186" width="1" height="5" fill="#505050"/>
<rect x="467" y="188" width="1" height="1" fill="#505050" opacity="0.8"/>
<text x="133.7" y="452.6" font-size="10.6" fill="#111" textLength="24.4" lengthAdjust="spacingAndGlyphs">0.000</text>
<text x="603.9" y="452.6" font-size="10.6" fill="#111" textLength="31.2" lengthAdjust="spacingAndGlyphs">75.000</text>
<text x="679.6" y="87.7" font-size="11.2" fill="#1A1A1A" textLength="38.8" lengthAdjust="spacingAndGlyphs">Materials</text>
<rect x="680" y="95.1" width="20.2" height="9.4" fill="#A7EAF9" stroke="#2A2A2A" stroke-width="1"/>
<text x="708.6" y="103.0" font-size="8.9" fill="#1A1A2A" textLength="31.8" lengthAdjust="spacingAndGlyphs">Soft Clay</text>
<rect x="680" y="109.3" width="20.2" height="9.4" fill="#F5FD6B" stroke="#2A2A2A" stroke-width="1"/>
<text x="708.6" y="117.2" font-size="8.9" fill="#1A1A2A" textLength="16.4" lengthAdjust="spacingAndGlyphs">Peat</text>
<rect x="680" y="124.0" width="20.2" height="9.4" fill="#EFFF0F" stroke="#2A2A2A" stroke-width="1"/>
<text x="708.6" y="131.9" font-size="8.9" fill="#1A1A2A" textLength="17.6" lengthAdjust="spacingAndGlyphs">Sand</text>
<rect x="19.3" y="468.5" width="784" height="29" fill="#F0F0F0"/>
<rect x="19" y="468.3" width="784.5" height="0.9" fill="#8A8A8A"/>
<rect x="19" y="468.3" width="0.9" height="29.5" fill="#8A8A8A"/>
<rect x="803" y="468.3" width="1" height="29.5" fill="#0A0A0A"/>
<rect x="19" y="496.9" width="784.5" height="1" fill="#3A3A3A"/>
<rect x="70.3" y="473.3" width="30.2" height="9.2" fill="#FF0000"/>
<rect x="100.5" y="473.3" width="31.3" height="9.2" fill="#FF8C00"/>
<rect x="131.8" y="473.3" width="31.8" height="9.2" fill="#007F00"/>
<rect x="100.5" y="473.3" width="0.9" height="9.2" fill="#4A2200"/>
<rect x="131.8" y="473.3" width="0.9" height="9.2" fill="#2A2A00"/>
<text x="26.2" y="491" font-size="9" fill="#1A1A2A" textLength="44.2" lengthAdjust="spacingAndGlyphs">Safety factor</text>
<text x="93.2" y="491" font-size="8.6" fill="#1A1A2A" textLength="15.4" lengthAdjust="spacingAndGlyphs">1.15</text>
<text x="124.9" y="491" font-size="8.6" fill="#1A1A2A" textLength="15.2" lengthAdjust="spacingAndGlyphs">1.35</text>
<rect x="19" y="497.9" width="784.5" height="13.6" fill="#F0F0F0"/>
<rect x="19.5" y="499" width="59.099999999999994" height="12" fill="#EFEFEF"/>
<rect x="19.5" y="499" width="59.099999999999994" height="0.8" fill="#A0A0A0"/>
<rect x="19.5" y="499" width="0.8" height="12" fill="#A0A0A0"/>
<rect x="19.5" y="510.4" width="59.099999999999994" height="0.8" fill="#FFFFFF"/>
<rect x="77.8" y="499" width="0.8" height="12" fill="#FFFFFF"/>
<text x="19.7" y="508" font-size="8.6" fill="#1A1A2A" textLength="27.8" lengthAdjust="spacingAndGlyphs">X: 4.214</text>
<rect x="80.1" y="499" width="57.599999999999994" height="12" fill="#EFEFEF"/>
<rect x="80.1" y="499" width="57.599999999999994" height="0.8" fill="#A0A0A0"/>
<rect x="80.1" y="499" width="0.8" height="12" fill="#A0A0A0"/>
<rect x="80.1" y="510.4" width="57.599999999999994" height="0.8" fill="#FFFFFF"/>
<rect x="136.89999999999998" y="499" width="0.8" height="12" fill="#FFFFFF"/>
<text x="80.3" y="508" font-size="8.6" fill="#1A1A2A" textLength="32.6" lengthAdjust="spacingAndGlyphs">Y: 11.219</text>
<rect x="139.9" y="499" width="88.69999999999999" height="12" fill="#EFEFEF"/>
<rect x="139.9" y="499" width="88.69999999999999" height="0.8" fill="#A0A0A0"/>
<rect x="139.9" y="499" width="0.8" height="12" fill="#A0A0A0"/>
<rect x="139.9" y="510.4" width="88.69999999999999" height="0.8" fill="#FFFFFF"/>
<rect x="227.79999999999998" y="499" width="0.8" height="12" fill="#FFFFFF"/>
<text x="140.1" y="508" font-size="8.6" fill="#1A1A2A" textLength="13.2" lengthAdjust="spacingAndGlyphs">Edit</text>
<rect x="230.4" y="499" width="572.4" height="12" fill="#EFEFEF"/>
<rect x="230.4" y="499" width="572.4" height="0.8" fill="#A0A0A0"/>
<rect x="230.4" y="499" width="0.8" height="12" fill="#A0A0A0"/>
<rect x="230.4" y="510.4" width="572.4" height="0.8" fill="#FFFFFF"/>
<rect x="802.0" y="499" width="0.8" height="12" fill="#FFFFFF"/>
<rect x="196.1" y="877.5" width="413.7" height="1.4" fill="#4F4F51"/>
<rect x="209.9" y="870.1" width="1.2" height="67.3" fill="#231F20"/>
<rect x="365.0" y="870.1" width="1.2" height="67.3" fill="#231F20"/>
<rect x="415.7" y="870.1" width="1.2" height="67.3" fill="#231F20"/>
<rect x="502.09999999999997" y="870.1" width="1.2" height="67.3" fill="#231F20"/>
<rect x="568.6999999999999" y="870.1" width="1.2" height="67.3" fill="#231F20"/>
<rect x="589.6999999999999" y="870.1" width="1.2" height="67.3" fill="#231F20"/>
<text x="247.4" y="866" font-size="14.6" fill="#231F20" textLength="41.1" lengthAdjust="spacingAndGlyphs" >17.5m</text>
<text x="373.3" y="866" font-size="14.6" fill="#231F20" textLength="33.5" lengthAdjust="spacingAndGlyphs" >6.0m</text>
<text x="445.3" y="866" font-size="14.6" fill="#231F20" textLength="29.7" lengthAdjust="spacingAndGlyphs" >10m</text>
<text x="523.1" y="866" font-size="14.6" fill="#231F20" textLength="21.6" lengthAdjust="spacingAndGlyphs" >8m</text>
<text x="569.3" y="866" font-size="14.6" fill="#231F20" textLength="21.5" lengthAdjust="spacingAndGlyphs" >3m</text>
<defs><clipPath id="soil"><path d="M113.2,1065.6 L212.1,1065.6 L365.8,979.2 L418.5,979.2 L508,1062.2 L570.2,1062.3 L577.5,1096.3 L592.8,1096.3 L598.3,1062.3 L722.6,1062.3 C722.65,1062.67 722.27,1062.55 722.90,1064.50 C723.53,1066.45 726.22,1071.15 726.40,1074.00 C726.58,1076.85 724.00,1078.37 724.00,1081.60 C724.00,1084.83 726.07,1090.83 726.40,1093.40 C726.73,1095.97 726.20,1096.00 726.00,1097.00 C725.80,1098.00 725.85,1097.30 725.20,1099.40 C724.55,1101.50 721.97,1106.05 722.10,1109.60 C722.23,1113.15 726.00,1116.60 726.00,1120.70 C726.00,1124.80 722.23,1129.12 722.10,1134.20 C721.97,1139.28 724.68,1148.03 725.20,1151.20 C725.72,1154.37 725.82,1151.12 725.20,1153.20 C724.58,1155.28 721.82,1159.92 721.50,1163.70 C721.18,1167.48 723.40,1172.83 723.30,1175.90 C723.20,1178.97 722.12,1180.45 720.90,1182.10 C719.68,1183.75 717.23,1184.17 716.00,1185.80 C714.77,1187.43 714.93,1190.07 713.50,1191.90 C712.07,1193.73 709.35,1195.27 707.40,1196.80 C705.45,1198.33 703.28,1199.97 701.80,1201.10 C700.32,1202.23 699.05,1203.18 698.50,1203.60 L138.3,1203.6 C137.85,1203.27 136.60,1202.47 135.60,1201.60 C134.60,1200.73 133.40,1199.22 132.30,1198.40 C131.20,1197.58 130.37,1197.25 129.00,1196.70 C127.63,1196.15 125.28,1196.02 124.10,1195.10 C122.92,1194.18 122.53,1192.48 121.90,1191.20 C121.27,1189.92 121.22,1188.67 120.30,1187.40 C119.38,1186.13 117.60,1184.78 116.40,1183.60 C115.20,1182.42 113.83,1181.48 113.10,1180.30 C112.37,1179.12 112.13,1177.87 112.00,1176.50 C111.87,1175.13 111.97,1173.57 112.30,1172.10 C112.63,1170.63 113.58,1169.25 114.00,1167.70 C114.42,1166.15 114.95,1164.27 114.80,1162.80 C114.65,1161.33 113.75,1160.27 113.10,1158.90 C112.45,1157.53 111.40,1155.68 110.90,1154.60 C110.40,1153.52 110.15,1153.07 110.10,1152.40 C110.05,1151.73 110.05,1153.67 110.60,1150.60 C111.15,1147.53 113.53,1139.13 113.40,1134.00 C113.27,1128.87 109.73,1124.13 109.80,1119.80 C109.87,1115.47 113.80,1111.53 113.80,1108.00 C113.80,1104.47 110.55,1100.57 109.80,1098.60 C109.05,1096.63 109.37,1097.12 109.30,1096.20 C109.23,1095.28 108.92,1095.33 109.40,1093.10 C109.88,1090.87 112.20,1085.95 112.20,1082.80 C112.20,1079.65 109.27,1076.82 109.40,1074.20 C109.53,1071.58 112.37,1068.53 113.00,1067.10 C113.63,1065.67 113.17,1065.85 113.20,1065.60 Z"/></clipPath></defs>
<path d="M113.2,1065.6 L212.1,1065.6 L365.8,979.2 L418.5,979.2 L508,1062.2 L570.2,1062.3 L577.5,1096.3 L592.8,1096.3 L598.3,1062.3 L722.6,1062.3 C722.65,1062.67 722.27,1062.55 722.90,1064.50 C723.53,1066.45 726.22,1071.15 726.40,1074.00 C726.58,1076.85 724.00,1078.37 724.00,1081.60 C724.00,1084.83 726.07,1090.83 726.40,1093.40 C726.73,1095.97 726.20,1096.00 726.00,1097.00 C725.80,1098.00 725.85,1097.30 725.20,1099.40 C724.55,1101.50 721.97,1106.05 722.10,1109.60 C722.23,1113.15 726.00,1116.60 726.00,1120.70 C726.00,1124.80 722.23,1129.12 722.10,1134.20 C721.97,1139.28 724.68,1148.03 725.20,1151.20 C725.72,1154.37 725.82,1151.12 725.20,1153.20 C724.58,1155.28 721.82,1159.92 721.50,1163.70 C721.18,1167.48 723.40,1172.83 723.30,1175.90 C723.20,1178.97 722.12,1180.45 720.90,1182.10 C719.68,1183.75 717.23,1184.17 716.00,1185.80 C714.77,1187.43 714.93,1190.07 713.50,1191.90 C712.07,1193.73 709.35,1195.27 707.40,1196.80 C705.45,1198.33 703.28,1199.97 701.80,1201.10 C700.32,1202.23 699.05,1203.18 698.50,1203.60 L138.3,1203.6 C137.85,1203.27 136.60,1202.47 135.60,1201.60 C134.60,1200.73 133.40,1199.22 132.30,1198.40 C131.20,1197.58 130.37,1197.25 129.00,1196.70 C127.63,1196.15 125.28,1196.02 124.10,1195.10 C122.92,1194.18 122.53,1192.48 121.90,1191.20 C121.27,1189.92 121.22,1188.67 120.30,1187.40 C119.38,1186.13 117.60,1184.78 116.40,1183.60 C115.20,1182.42 113.83,1181.48 113.10,1180.30 C112.37,1179.12 112.13,1177.87 112.00,1176.50 C111.87,1175.13 111.97,1173.57 112.30,1172.10 C112.63,1170.63 113.58,1169.25 114.00,1167.70 C114.42,1166.15 114.95,1164.27 114.80,1162.80 C114.65,1161.33 113.75,1160.27 113.10,1158.90 C112.45,1157.53 111.40,1155.68 110.90,1154.60 C110.40,1153.52 110.15,1153.07 110.10,1152.40 C110.05,1151.73 110.05,1153.67 110.60,1150.60 C111.15,1147.53 113.53,1139.13 113.40,1134.00 C113.27,1128.87 109.73,1124.13 109.80,1119.80 C109.87,1115.47 113.80,1111.53 113.80,1108.00 C113.80,1104.47 110.55,1100.57 109.80,1098.60 C109.05,1096.63 109.37,1097.12 109.30,1096.20 C109.23,1095.28 108.92,1095.33 109.40,1093.10 C109.88,1090.87 112.20,1085.95 112.20,1082.80 C112.20,1079.65 109.27,1076.82 109.40,1074.20 C109.53,1071.58 112.37,1068.53 113.00,1067.10 C113.63,1065.67 113.17,1065.85 113.20,1065.60 Z" fill="#66CCF3"/>
<g clip-path="url(#soil)">
<rect x="100" y="1096.6" width="640" height="56" fill="#7F6BBA"/>
<rect x="100" y="1152.4" width="640" height="60" fill="#FCDC3B"/>
<rect x="100" y="1096" width="640" height="1" fill="#2C4A5A"/>
<rect x="100" y="1097" width="640" height="1.4" fill="#6CC2EA"/>
<rect x="100" y="1150.8" width="640" height="0.9" fill="#C8B088"/>
<rect x="100" y="1151.7" width="640" height="1.1" fill="#3E3522"/>
</g>
<rect x="138" y="1202.9" width="560.5" height="1" fill="#3A3530"/>
<rect x="102.2" y="1202" width="1.2" height="1.2" fill="#F0D040"/><rect x="103.2" y="1202.9" width="0.8" height="0.8" fill="#6A5A20"/>
<polygon points="484.0,1039.3 541,1039.3 562.5,1062.2 508,1062.2" fill="#41BB6C"/>
<path d="M154.1,996.8 L334,996.8 C337.18,996.87 346.07,996.85 353.10,997.20 C360.13,997.55 368.50,997.70 376.20,998.90 C383.90,1000.10 391.58,1002.12 399.30,1004.40 C407.02,1006.68 414.78,1009.43 422.50,1012.60 C430.22,1015.77 437.90,1019.37 445.60,1023.40 C453.30,1027.43 461.77,1032.43 468.70,1036.80 C475.63,1041.17 481.80,1045.60 487.20,1049.60 C492.60,1053.60 497.38,1057.92 501.10,1060.80 C504.82,1063.68 508.10,1065.88 509.50,1066.90 L629.6,1067.1" fill="none" stroke="#1B7DC1" stroke-width="1.8"/>
<polyline points="113.20,1065.60 212.10,1065.60 365.80,979.20 418.50,979.20 508.00,1062.20 570.20,1062.30 577.50,1096.30 592.80,1096.30 598.30,1062.30 722.60,1062.30" fill="none" stroke="#231F20" stroke-width="2.5" stroke-linejoin="miter"/>
<rect x="208.40" y="1001.00" width="14.4" height="0.9" fill="#58595B"/>
<rect x="210.10" y="1004.40" width="11" height="0.9" fill="#58595B"/>
<rect x="211.60" y="1007.80" width="8" height="0.9" fill="#58595B"/>
<rect x="578.60" y="1074.40" width="12" height="0.9" fill="#58595B"/>
<rect x="579.85" y="1077.70" width="9.5" height="0.9" fill="#58595B"/>
<rect x="581.35" y="1081.00" width="6.5" height="0.9" fill="#58595B"/>
<path d="M633.00,1072.40 L638.72,1066.05 M636.90,1072.40 L640.67,1068.22 M644.20,1072.40 L648.42,1067.72 M636.60,1063.70 L644.32,1072.27 M640.60,1063.70 L646.32,1070.05 M644.80,1063.70 L651.27,1070.88 M649.90,1072.40 L655.62,1066.05 M653.80,1072.40 L657.57,1068.22 M661.10,1072.40 L665.32,1067.72 M653.50,1063.70 L661.22,1072.27 M657.50,1063.70 L663.22,1070.05 M661.70,1063.70 L668.17,1070.88 M666.80,1072.40 L672.52,1066.05 M670.70,1072.40 L674.47,1068.22 M678.00,1072.40 L682.22,1067.72 M670.40,1063.70 L678.12,1072.27 M674.40,1063.70 L680.12,1070.05 M678.60,1063.70 L685.07,1070.88 M683.70,1072.40 L689.42,1066.05 M687.60,1072.40 L691.37,1068.22 M694.90,1072.40 L699.12,1067.72 M687.30,1063.70 L695.02,1072.27 M691.30,1063.70 L697.02,1070.05 M695.50,1063.70 L701.97,1070.88 M700.60,1072.40 L706.32,1066.05 M704.50,1072.40 L708.27,1068.22 M711.80,1072.40 L714.00,1069.96 M704.20,1063.70 L711.92,1072.27 M708.20,1063.70 L713.92,1070.05 M712.40,1063.70 L714.00,1065.48" stroke="#231F20" stroke-width="1.25" fill="none" stroke-linecap="round"/>
<text x="174.8" y="983.7" font-size="14.2" fill="#231F20" textLength="32.4" lengthAdjust="spacingAndGlyphs" >4.0m</text>
<rect x="176.3" y="987.15" width="32.90" height="0.9" fill="#231F20"/>
<path d="M176.8,987.6 L188.6,987.6 L182.70,997.4 Z" fill="none" stroke="#231F20" stroke-width="0.9" stroke-linejoin="miter"/>
<text x="371.8" y="965.2" font-size="14.2" fill="#231F20" textLength="32.1" lengthAdjust="spacingAndGlyphs" >5.0m</text>
<rect x="373.0" y="968.15" width="33.40" height="0.9" fill="#231F20"/>
<path d="M373.6,968.6 L385.6,968.6 L379.60,978.3 Z" fill="none" stroke="#231F20" stroke-width="0.9" stroke-linejoin="miter"/>
<text x="142.0" y="1048.6" font-size="14.2" fill="#231F20" textLength="31.9" lengthAdjust="spacingAndGlyphs" >0.0m</text>
<rect x="145.0" y="1051.75" width="33.00" height="0.9" fill="#231F20"/>
<path d="M145.4,1052.2 L157.4,1052.2 L151.40,1062.6 Z" fill="none" stroke="#231F20" stroke-width="0.9" stroke-linejoin="miter"/>
<text x="140.2" y="1082.9" font-size="14.2" fill="#231F20" textLength="36.8" lengthAdjust="spacingAndGlyphs" >-2.0m</text>
<rect x="145.0" y="1085.95" width="32.90" height="0.9" fill="#231F20"/>
<path d="M145.4,1086.4 L157.2,1086.4 L151.30,1096.4 Z" fill="#fff" stroke="#231F20" stroke-width="0.9" stroke-linejoin="miter"/>
<text x="140.2" y="1133.9" font-size="14.2" fill="#231F20" textLength="36.8" lengthAdjust="spacingAndGlyphs" >-4.0m</text>
<rect x="145.0" y="1137.05" width="33.00" height="0.9" fill="#231F20"/>
<path d="M145.4,1137.5 L157.2,1137.5 L151.30,1148.0 Z" fill="#fff" stroke="#231F20" stroke-width="0.9" stroke-linejoin="miter"/>
<text x="140.2" y="1187.0" font-size="14.2" fill="#231F20" textLength="36.8" lengthAdjust="spacingAndGlyphs" >-6.0m</text>
<rect x="145.0" y="1190.15" width="33.00" height="0.9" fill="#231F20"/>
<path d="M145.4,1190.6 L157.2,1190.6 L151.30,1201.0 Z" fill="#fff" stroke="#231F20" stroke-width="0.9" stroke-linejoin="miter"/>
<text x="679.3" y="1046.4" font-size="14.2" fill="#231F20" textLength="31.3" lengthAdjust="spacingAndGlyphs" >0.0m</text>
<rect x="681.5" y="1049.65" width="32.90" height="0.9" fill="#231F20"/>
<path d="M681.8,1050.1 L694.2,1050.1 L688.00,1059.8 Z" fill="none" stroke="#231F20" stroke-width="0.9" stroke-linejoin="miter"/>
<text x="597.7" y="1053.6" font-size="14.2" fill="#231F20" textLength="47.7" lengthAdjust="spacingAndGlyphs" >-0.25 m</text>
<rect x="600.5" y="1056.95" width="32.20" height="0.9" fill="#231F20"/>
<path d="M600.8,1057.4 L611.6,1057.4 L606.20,1066.6 Z" fill="none" stroke="#231F20" stroke-width="0.9" stroke-linejoin="miter"/>
<text x="238.5" y="1030.2" font-size="14.2" fill="#231F20" textLength="30.0" lengthAdjust="spacingAndGlyphs" >1:3.5</text>
<text x="468.0" y="1011.2" font-size="14.2" fill="#231F20" textLength="18.7" lengthAdjust="spacingAndGlyphs" >1:2</text>
<text x="506.6" y="1030.4" font-size="13.0" fill="#231F20" textLength="18.3" lengthAdjust="spacingAndGlyphs" >7m</text>
<text x="563.4" y="1051.8" font-size="13.4" fill="#231F20" textLength="18.5" lengthAdjust="spacingAndGlyphs" >2m</text>
<text x="316.8" y="1087.4" font-size="15.2" fill="#231F20" textLength="74.4" lengthAdjust="spacingAndGlyphs" >SOFT CLAY</text>
<text x="337.7" y="1140.6" font-size="15.2" fill="#231F20" textLength="33.5" lengthAdjust="spacingAndGlyphs" >PEAT</text>
<text x="334.3" y="1192.8" font-size="15.2" fill="#231F20" textLength="39.4" lengthAdjust="spacingAndGlyphs" >SAND</text>
<text x="570.0" y="1139.6" font-size="14.8" fill="#231F20" textLength="20.8" lengthAdjust="spacingAndGlyphs" >2m</text>
<rect x="575.9" y="1103.1" width="1" height="19.7" fill="#231F20"/>
<rect x="589.9" y="1103.1" width="1" height="19.7" fill="#231F20"/>
<rect x="570.3" y="1111.8" width="24.7" height="1" fill="#231F20"/>
</svg>
</body></html>
